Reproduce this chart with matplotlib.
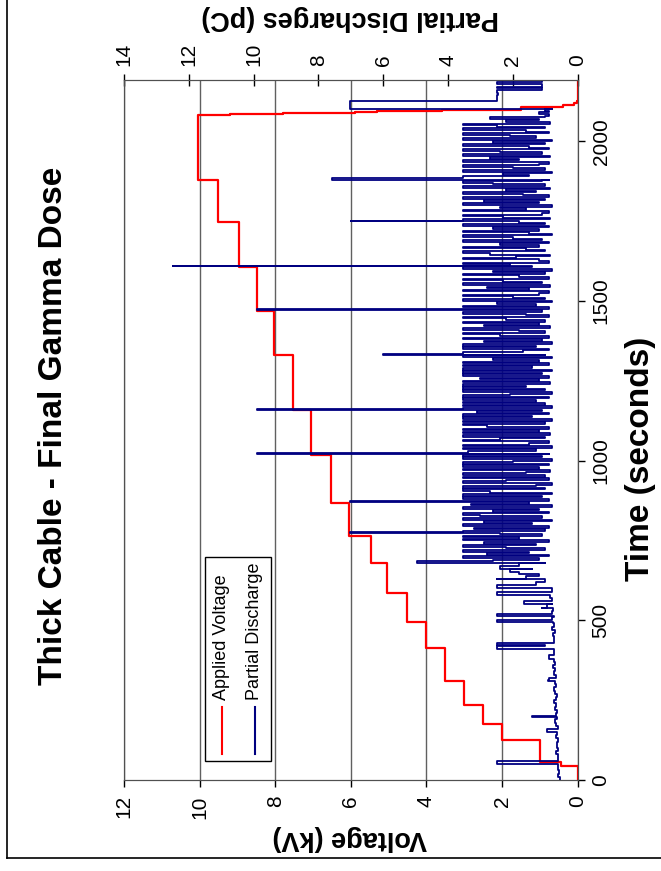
import numpy as np
import matplotlib
matplotlib.use("Agg")
import matplotlib.pyplot as plt
from matplotlib.patches import Rectangle
from matplotlib.lines import Line2D

plt.rcParams['font.family'] = ['Liberation Sans', 'DejaVu Sans']

# applied voltage steps (time s, kV held from that time on)
volt_t = [0, 44, 56, 125, 175, 235, 310, 413, 496, 585, 679, 763, 868, 1017, 1158, 1330,
          1468, 1606, 1747, 1880, 2081, 2084, 2087, 2090, 2093, 2099, 2106, 2112, 2119, 2125, 2190]
volt_v = [0, 0.45, 1.0, 2.0, 2.5, 3.0, 3.5, 4.0, 4.52, 5.04, 5.47, 6.05, 6.53, 7.06, 7.53, 8.03,
          8.48, 8.97, 9.52, 10.03, 9.2, 7.8, 5.9, 5.3, 3.6, 1.5, 0.4, 0.1, 0.02, 0.0, 0.0]

# partial discharge, low level part (every 10 s from 0 to 680 s)
pd_low = [0.55, 0.6, 0.58, 0.62, 0.6, 0.65, 0.6, 0.62, 0.66, 0.6,
          0.63, 0.65, 0.6, 0.68, 0.64, 0.9, 0.62, 0.66, 0.7, 0.65,
          0.68, 0.64, 0.7, 0.66, 0.72, 0.68, 0.65, 0.7, 0.74, 0.68,
          0.7, 0.92, 0.68, 0.72, 0.7, 0.75, 0.7, 0.72, 0.9, 0.72,
          0.74, 0.8, 1.0, 0.74, 0.72, 0.76, 0.7, 0.78, 0.74, 0.75,
          0.78, 0.74, 0.8, 0.76, 0.95, 0.8, 0.78, 0.85, 1.1, 0.8,
          0.9, 1.3, 1.0, 1.6, 1.2, 2.1, 1.4, 1.8, 1.0]

# partial discharge, noisy part (every 5 s from 685 to 2080 s)
pd_noise = [2.6, 1.2, 3.55, 0.9, 2.8, 1.5, 3.55, 1.0, 2.2, 3.55, 1.3, 2.9, 0.9, 3.55, 1.8, 3.55, 1.1, 2.4,
            3.55, 1.0, 3.2, 0.9, 3.55, 1.4, 2.9, 0.8, 3.55, 1.1, 3.0, 3.55, 0.9, 2.6, 1.2, 3.55, 0.8, 3.3, 1.5, 3.55,
            0.9, 3.55, 1.1, 3.55, 0.8, 2.7, 3.55, 1.0, 3.55, 1.3, 0.8, 3.55, 2.2, 0.9, 3.55, 1.0, 3.55, 1.6, 0.85, 3.55,
            1.2, 3.55, 0.9, 3.55, 2.0, 0.8, 3.55, 1.1, 3.55, 0.9, 3.4, 1.3, 3.55, 0.8, 3.55, 1.5, 0.9, 3.55, 2.4, 1.0,
            3.55, 0.85, 3.55, 1.2, 3.55, 0.9, 2.8, 3.55, 1.0, 3.55, 0.8, 3.55, 1.4, 3.55, 0.9, 3.1, 1.1, 3.55, 0.8, 3.55,
            1.0, 3.55, 1.3, 3.55, 0.9, 3.55, 2.1, 0.8, 3.55, 1.0, 3.55, 1.6, 3.55, 0.85, 3.55, 1.2, 3.0, 0.9, 3.55, 1.1,
            3.55, 0.8, 3.55, 1.4, 3.55, 0.9, 3.55, 1.2, 2.6, 0.8, 3.55, 1.0, 3.55, 1.7, 0.9, 3.55, 1.3, 3.55, 0.8, 2.9,
            1.1, 3.55, 0.9, 2.4, 3.55, 1.0, 1.8, 3.55, 0.85, 2.9, 1.2, 3.55, 1.0, 2.2, 3.55, 0.9, 1.6, 3.55, 1.1, 2.7,
            0.9, 3.55, 1.3, 2.5, 0.8, 3.55, 1.0, 2.0, 3.55, 1.2, 0.9, 3.55, 1.5, 2.8, 0.85, 3.55, 1.1, 2.3, 3.55, 0.9,
            1.8, 3.55, 1.0, 2.6, 0.8, 3.55, 1.4, 2.1, 3.55, 0.9, 1.2, 3.55, 1.9, 0.85, 2.7, 3.55, 1.0, 1.6, 3.55, 1.2,
            2.4, 0.9, 3.55, 1.1, 2.0, 3.55, 0.8, 1.5, 3.55, 1.2, 2.6, 0.9, 3.55, 1.0, 1.8, 3.55, 0.85, 2.3, 3.55, 1.1,
            0.9, 3.55, 1.6, 2.4, 0.8, 3.55, 1.2, 2.9, 1.0, 3.55, 0.9, 1.7, 3.55, 1.3, 2.2, 0.85, 3.55, 1.0, 2.6, 3.55,
            1.1, 0.9, 3.55, 1.5, 2.3, 0.8, 3.55, 1.0, 2.0, 3.55, 1.2, 0.9, 3.55, 1.8, 2.7, 0.85, 3.55, 1.1, 2.4, 3.55,
            0.9, 1.5, 3.55, 1.0, 2.6, 0.8, 3.55, 1.3, 2.1, 3.55, 0.9, 1.6, 3.55, 1.0, 2.5, 3.55, 0.85, 2.2, 1.2, 2.7,
            1.0, 0.9]

# single spikes (time s, pC)
spike_t = [50, 150, 197, 313, 410, 422, 494, 513, 538, 551, 580, 600, 628, 645, 660,
           680, 772, 870, 1020, 1158, 1330, 1473, 1609, 1749, 1880]
spike_v = [2.5, 0.95, 1.4, 0.9, 2.5, 2.5, 2.5, 2.5, 1.1, 1.65, 2.5, 2.5, 2.5, 1.8, 2.4,
           4.97, 7.04, 7.04, 9.9, 9.9, 6.0, 9.9, 12.5, 7.0, 7.57]

# tail after the voltage is switched off
tail_t = [2085, 2090, 2095, 2100, 2102, 2119, 2125, 2135, 2145, 2150, 2159, 2165, 2171, 2178, 2184, 2190]
tail_v = [1.2, 0.9, 1.0, 0.8, 7.04, 7.04, 2.5, 2.5, 2.45, 2.5, 1.1, 2.5, 1.1, 2.5, 1.1, 2.5]

t_all = np.concatenate([np.arange(0, 681, 10), np.arange(685, 2081, 5), spike_t, tail_t])
v_all = np.concatenate([pd_low, pd_noise, spike_v, tail_v])
order = np.argsort(t_all, kind="stable")
pd_t = t_all[order]
pd_v = v_all[order]

W, H = 661, 871
fig = plt.figure(figsize=(W / 100, H / 100), dpi=100)
ax = fig.add_axes([124 / W, 1 - 780 / H, (577.7 - 124) / W, (780 - 80.5) / H])

ax.plot(volt_v, volt_t, color="#ff0000", lw=1.6, drawstyle="steps-pre")
ax.set_xlim(12, 0)
ax.set_ylim(0, 2190)
ax.set_xticks(range(0, 13, 2))
ax.set_yticks(range(0, 2001, 500))
ax.grid(axis="x", color="#606060", lw=1)
ax.yaxis.tick_right()
ax.tick_params(axis="x", direction="out", length=5, width=1, labelsize=15, labelrotation=90, pad=6)
ax.tick_params(axis="y", direction="out", length=5, width=1, labelsize=15, labelrotation=90, pad=5)
plt.setp(ax.get_yticklabels(), va="center")
for s in ax.spines.values():
    s.set_color("#505050")

ax2 = ax.twiny()
ax2.plot(pd_v, pd_t, color="#000080", lw=1.3, drawstyle="steps-pre")
ax2.set_xlim(14, 0)
ax2.set_xticks(range(0, 15, 2))
ax2.tick_params(axis="x", direction="inout", length=9, width=1, labelsize=15, labelrotation=90, pad=6)
for s in ax2.spines.values():
    s.set_color("#505050")

# legend drawn by hand (everything is turned by 90 degrees)
ax2.add_patch(Rectangle((0.1785, 0.0272), 0.1455, 0.2916, transform=ax2.transAxes,
                        fc="white", ec="black", lw=1, zorder=5))
ax2.plot([0.216, 0.216], [0.0372, 0.1044], transform=ax2.transAxes, color="#ff0000", lw=1.5, zorder=6)
ax2.plot([0.2887, 0.2887], [0.0372, 0.1044], transform=ax2.transAxes, color="#000080", lw=1.5, zorder=6)
ax2.text(0.216, 0.1144, "Applied Voltage", transform=ax2.transAxes, rotation=90,
         ha="center", va="bottom", fontsize=13, zorder=6)
ax2.text(0.2887, 0.1144, "Partial Discharge", transform=ax2.transAxes, rotation=90,
         ha="center", va="bottom", fontsize=13, zorder=6)

fig.text(54 / W, 1 - 426 / H, "Thick Cable - Final Gamma Dose", rotation=90,
         ha="center", va="center", fontsize=24, fontweight="bold")
fig.text(350 / W, 1 - 838 / H, "Voltage (kV)", rotation=180,
         ha="center", va="center", fontsize=19.5, fontweight="bold")
fig.text(350 / W, 1 - 18 / H, "Partial Discharges (pC)", rotation=180,
         ha="center", va="center", fontsize=19.5, fontweight="bold")
fig.text(640 / W, 1 - 459 / H, "Time (seconds)", rotation=90,
         ha="center", va="center", fontsize=24, fontweight="bold")

# chart area border
fig.add_artist(Line2D([7 / W, 7 / W], [1 - 858 / H, 1.0], color="black", lw=1.2))
fig.add_artist(Line2D([7 / W, 1.0], [1 - 858 / H, 1 - 858 / H], color="black", lw=1.2))

fig.savefig("out.png", dpi=100)
